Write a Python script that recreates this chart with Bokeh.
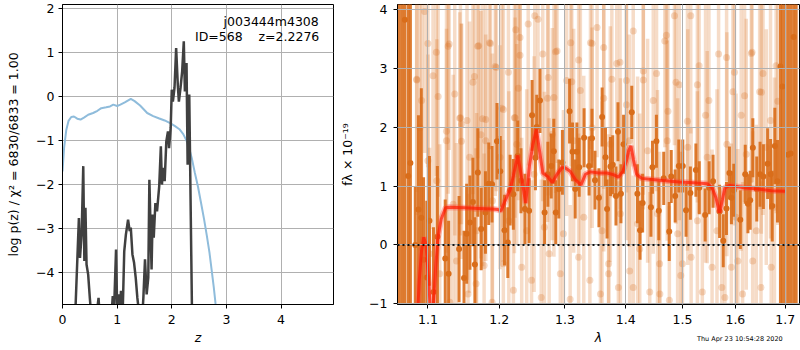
import numpy as np
from bokeh.plotting import figure
from bokeh.layouts import row, column
from bokeh.models import (Range1d, FixedTicker, CustomJSTickFormatter, Label,
                          ColumnDataSource, Span, Div)
from bokeh.embed import file_html
from bokeh.resources import INLINE

# ---------------- left panel data: redshift probability ----------------
prior_z = [0.00, 0.03, 0.07, 0.11, 0.16, 0.21, 0.27, 0.33, 0.40, 0.47, 0.56, 0.64,
           0.71, 0.80, 0.87, 0.93, 1.00, 1.06, 1.14, 1.25, 1.32, 1.42, 1.55, 1.66,
           1.76, 1.87, 1.97, 2.06, 2.14, 2.21, 2.27, 2.32, 2.37, 2.42, 2.48, 2.53,
           2.59, 2.64, 2.69, 2.73, 2.77, 2.80, 2.83]
prior_logp = [-1.70, -1.15, -0.75, -0.55, -0.46, -0.45, -0.50, -0.52, -0.47, -0.41,
              -0.37, -0.32, -0.26, -0.24, -0.22, -0.18, -0.21, -0.18, -0.13, -0.05,
              -0.10, -0.20, -0.37, -0.44, -0.49, -0.54, -0.60, -0.67, -0.74, -0.85,
              -1.00, -1.18, -1.42, -1.72, -2.05, -2.38, -2.78, -3.15, -3.55, -3.95,
              -4.35, -4.70, -5.00]

pz_z = [0.20, 0.24, 0.30, 0.32, 0.35, 0.38, 0.40, 0.42, 0.44, 0.47, 0.50, 0.54,
        0.62, 0.66, 0.69, 0.88, 0.92, 0.94, 0.98, 1.00, 1.03, 1.05, 1.07, 1.10,
        1.13, 1.16, 1.20, 1.23, 1.25, 1.28, 1.31, 1.34, 1.37, 1.40, 1.45, 1.48,
        1.51, 1.54, 1.57, 1.59, 1.63, 1.65, 1.67, 1.70, 1.73, 1.77, 1.80, 1.82,
        1.84, 1.87, 1.90, 1.93, 1.95, 1.98, 2.00, 2.02, 2.05, 2.08, 2.11, 2.13,
        2.16, 2.19, 2.22, 2.24, 2.27, 2.29, 2.32, 2.37, 2.40]
pz_logp = [-5.5, -4.74, -2.76, -3.67, -3.14, -1.58, -3.74, -2.53, -3.82, -4.05,
           -4.58, -5.2, -5.0, -4.58, -5.2, -5.3, -4.54, -5.0, -3.48, -4.8,
           -4.5, -4.9, -4.42, -5.0, -3.52, -3.14, -2.80, -3.06, -2.98, -3.59,
           -3.78, -4.12, -4.58, -4.9, -5.2, -4.58, -3.70, -4.5, -4.12, -1.89,
           -3.93, -2.68, -3.21, -2.42, -2.61, -2.04, -1.13, -2.00, -1.62, -1.92,
           -1.02, -0.79, -1.17, -0.71, 0.16, -0.11, 0.20, 1.11, 0.27, -0.11,
           0.20, 0.58, 1.26, 0.12, 0.77, -1.55, 0.05, -4.9, -6.0]

obj_name = "j003444m4308"
obj_info = "ID=568\u00a0\u00a0\u00a0\u00a0z=2.2276"

z_ticks = [0, 1, 2, 3, 4]
logp_ticks = [-4, -3, -2, -1, 0, 1, 2]

# ---------------- right panel data: spectrum ----------------
# individual (faint) spectral pixels
bg_lam = [1.0850, 1.0916, 1.1069, 1.1114, 1.1289, 1.1366, 1.1445, 1.1537, 1.1620, 1.1702,
          1.1758, 1.1858, 1.1955, 1.2036, 1.2134, 1.2223, 1.2307, 1.2430, 1.2530, 1.2579,
          1.2653, 1.2737, 1.2826, 1.2875, 1.3026, 1.3092, 1.3246, 1.3410, 1.3518, 1.3628,
          1.3764, 1.3902, 1.4010, 1.4127, 1.4302, 1.4476, 1.4681, 1.4855, 1.4883, 1.5153,
          1.5308, 1.5492, 1.5676, 1.5829, 1.5982, 1.6180, 1.6328, 1.6514, 1.6700, 1.6814,
          1.1022, 1.1160, 1.1298, 1.1390, 1.1551, 1.1665, 1.1780, 1.1895, 1.2059, 1.2208,
          1.2332, 1.2481, 1.2629, 1.2752, 1.2926, 1.3082, 1.3218, 1.3400, 1.3574, 1.3710,
          1.3874, 1.4066, 1.4240, 1.4414, 1.4589, 1.4763, 1.4970, 1.5160, 1.5368, 1.5552,
          1.5737, 1.5921, 1.6141, 1.6341, 1.6507, 1.6714,
          1.0894, 1.1000, 1.1120, 1.1252, 1.1344, 1.1459, 1.1573, 1.1672, 1.1803, 1.1900,
          1.2010, 1.2140, 1.2258, 1.2407, 1.2520, 1.2678, 1.2801, 1.2975, 1.3138, 1.3301,
          1.3437, 1.3600, 1.3738, 1.3908, 1.4060, 1.4203, 1.4377, 1.4551, 1.4725, 1.4913,
          1.5098, 1.5276, 1.5460, 1.5645, 1.5835, 1.6013, 1.6213, 1.6413, 1.6614, 1.6780,
          1.0852, 1.0957, 1.1000, 1.1138, 1.1252, 1.1275, 1.1435, 1.1459, 1.1642, 1.1689,
          1.1734, 1.1803, 1.1872, 1.1941, 1.2059, 1.2233, 1.2243, 1.2282, 1.2307, 1.2727,
          1.2852, 1.3108, 1.3218, 1.3436, 1.3628, 1.3710, 1.3846, 1.4010, 1.4127, 1.4302,
          1.4534, 1.4593, 1.4709, 1.4738, 1.4942, 1.5000, 1.5092, 1.5276, 1.5429, 1.5797,
          1.5952, 1.6048, 1.6114, 1.6314, 1.6480, 1.6548, 1.6848]
bg_flux = [2.81, 2.45, 2.87, 3.27, 3.41, 2.56, 2.16, 2.11, 2.76, 3.38,
           2.14, 3.43, 3.01, 2.32, 2.93, 2.16, 3.52, 3.75, 3.89, 3.83,
           3.24, 2.84, 2.50, 3.29, 2.79, 3.43, 2.62, 3.43, 3.69, 3.35,
           2.81, 3.10, 2.79, 3.63, 2.95, 2.45, 3.46, 3.89, 2.76, 3.89,
           3.04, 2.45, 3.24, 3.18, 2.93, 2.53, 3.27, 2.59, 2.11, 3.04,
           -0.15, -0.49, -0.97, -0.27, -0.83, -0.66, -0.35, -0.97, -0.32, -0.77,
           -0.38, -0.60, -0.89, -0.15, -0.49, -0.92, -0.21, -0.60, -0.83, -0.32,
           -0.72, -0.44, -0.07, -0.80, -0.32, -0.94, -0.52, -0.21, -0.80, -0.38,
           -0.72, -0.38, -0.83, -0.27, -0.72, -0.38,
           1.99, 1.43, 1.09, 1.77, 0.69, 2.05, 1.49, 0.24, 1.77, 0.75,
           1.49, 0.41, 1.71, 0.24, 1.20, 0.30, 1.88, 0.19, 1.77, 0.47,
           1.99, 0.24, 1.71, 0.53, 1.77, 0.36, 1.60, 0.53, 1.77, 0.19,
           1.66, 0.41, 1.49, 0.24, 1.71, 0.47, 1.54, 0.24, 1.66, 0.64,
           2.80, 3.96, 3.42, 2.52, 1.93, 3.37, 2.15, 1.76, 2.86, 3.37,
           1.87, 2.13, 3.42, 3.03, 2.30, 2.16, 3.65, 2.66, 3.22, 2.49,
           3.28, 2.77, 3.14, 3.42, 2.49, -0.49, 3.08, 2.38, -0.72, 2.80,
           2.91, -0.83, 3.56, 2.27, 2.72, -0.32, 2.10, 2.72, 2.20, -0.89,
           2.60, -0.27, 2.20, 3.25, 2.60, 2.91, 2.44]
bg_err = [2.3, 1.9, 2.6, 2.1, 1.8, 2.4, 2.0, 2.7, 1.9, 2.2,
          2.5, 1.8, 2.1, 2.6, 2.0, 2.3, 1.9, 2.4, 2.2, 1.8,
          2.5, 2.0, 2.7, 1.9, 2.3, 2.1, 2.6, 1.8, 2.2, 2.4,
          2.0, 2.5, 1.9, 2.3, 2.1, 2.6, 1.8, 2.2, 2.4, 2.0,
          2.5, 1.9, 2.3, 2.1, 2.6, 1.8, 2.2, 2.4, 2.0, 2.5,
          1.8, 2.2, 1.6, 2.0, 1.7, 2.3, 1.9, 1.6, 2.1, 1.8,
          2.2, 1.7, 2.0, 2.3, 1.8, 1.6, 2.1, 1.9, 1.7, 2.2,
          1.8, 2.0, 2.3, 1.7, 1.9, 1.6, 2.1, 2.2, 1.8, 2.0,
          1.7, 2.1, 1.9, 2.2, 1.8, 2.0,
          2.1, 1.8, 2.4, 1.9, 2.2, 1.7, 2.3, 2.0, 1.8, 2.5,
          1.9, 2.2, 1.7, 2.4, 2.0, 2.3, 1.8, 2.1, 1.9, 2.4,
          1.7, 2.2, 2.0, 2.3, 1.8, 2.5, 1.9, 2.1, 1.7, 2.3,
          2.0, 2.2, 1.8, 2.4, 1.9, 2.1, 2.3, 1.8, 2.0, 2.2,
          1.9, 2.4, 2.1, 1.7, 2.2, 2.5, 1.8, 2.0, 2.3, 1.9,
          2.1, 2.4, 1.8, 2.2, 2.0, 1.7, 2.5, 1.9, 2.3, 2.1,
          2.4, 1.8, 2.2, 2.0, 2.6, 1.7, 2.1, 2.3, 1.9, 2.2,
          2.0, 1.8, 2.4, 2.1, 2.3, 1.9, 2.2, 2.0, 2.5, 1.8,
          2.1, 1.9, 2.3, 2.2, 2.0, 2.4, 2.1]

# binned spectrum
bin_lam = [1.0625, 1.0663, 1.0695, 1.0739, 1.0768, 1.0832, 1.0874, 1.0912, 1.0942, 1.0985,
           1.1021, 1.1075, 1.1128, 1.1235, 1.1281, 1.1426, 1.1495, 1.1532, 1.1578, 1.1620,
           1.1648, 1.1690, 1.1738, 1.1799, 1.1846, 1.1894, 1.1966, 1.2014, 1.2076, 1.2125,
           1.2159, 1.2207, 1.2272, 1.2321, 1.2380, 1.2444, 1.2489, 1.2540, 1.2560, 1.2610,
           1.2681, 1.2732, 1.2784, 1.2824, 1.2855, 1.2902, 1.2959, 1.3073, 1.3120, 1.3163,
           1.3190, 1.3227, 1.3306, 1.3387, 1.3435, 1.3484, 1.3549, 1.3602, 1.3658, 1.3684,
           1.3741, 1.3779, 1.3833, 1.3867, 1.3917, 1.3962, 1.4102, 1.4199, 1.4245, 1.4290,
           1.4435, 1.4462, 1.4532, 1.4574, 1.4662, 1.4761, 1.4797, 1.4868, 1.4934, 1.5006,
           1.5066, 1.5146, 1.5248, 1.5311, 1.5421, 1.5496, 1.5571, 1.5695, 1.5765, 1.5827,
           1.5884, 1.5923, 1.5969, 1.6096, 1.6193, 1.6246, 1.6291, 1.6344, 1.6422, 1.6488,
           1.6555, 1.6641, 1.6701, 1.6735, 1.6788, 1.6842, 1.6903, 1.6944, 1.7000, 1.7060,
           1.7114, 1.7176, 1.7230]
bin_flux = [6.00, -3.00, 3.82, 1.17, 1.39, 0.00, 0.60, 0.46, -0.25, -0.55,
            0.41, -0.80, 0.14, -0.23, -0.49, -0.07, -0.56, 0.19, 0.38, 0.73,
            -0.33, 1.23, 0.27, 0.55, 1.04, 1.03, 1.76, 1.25, 0.25, 0.04,
            0.93, 0.86, 1.51, 1.09, 0.61, 0.58, 2.20, 1.48, 2.00, 2.45,
            0.55, 1.20, 1.34, 1.59, 0.55, 0.95, 1.40, 2.27, 1.58, 0.95,
            1.58, 1.32, 1.82, 1.34, 1.81, 1.10, 0.80, 2.17, 1.49, 0.61,
            1.33, 1.36, 0.83, 1.92, 0.87, 1.71, 2.25, 0.87, 0.25, 0.71,
            0.64, 1.32, 1.76, 0.58, 1.13, 0.23, 1.16, 0.83, 1.34, 1.34,
            0.59, 0.88, 1.27, 0.97, 0.51, 0.97, 1.08, 0.57, 0.07, 0.62,
            1.22, 0.80, 0.93, 0.43, 1.20, 0.70, 0.76, 1.65, 0.95, 1.20,
            1.16, 1.38, 1.20, 0.66, 1.68, 1.08, 3.03, 2.69, 6.00, 1.53,
            1.55, 3.53, -3.00]
bin_err = [8.0, 8.0, 8.0, 8.0, 8.0, 1.00, 1.60, 2.20, 1.40, 1.30,
           1.10, 1.10, 1.20, 1.00, 0.90, 0.90, 0.80, 0.85, 0.80, 0.75,
           0.80, 0.75, 0.70, 0.70, 0.70, 0.65, 0.65, 0.60, 0.60, 0.60,
           0.60, 0.60, 0.60, 0.55, 0.60, 0.55, 0.60, 0.55, 0.55, 0.55,
           0.55, 0.55, 0.55, 0.55, 0.55, 0.50, 0.55, 0.55, 0.50, 0.50,
           0.50, 0.50, 0.50, 0.50, 0.50, 0.50, 0.50, 0.50, 0.50, 0.50,
           0.50, 0.50, 0.50, 0.50, 0.50, 0.50, 0.45, 0.50, 0.50, 0.50,
           0.50, 0.45, 0.45, 0.50, 0.45, 0.50, 0.45, 0.45, 0.45, 0.45,
           0.45, 0.45, 0.45, 0.45, 0.45, 0.45, 0.45, 0.45, 0.45, 0.45,
           0.45, 0.45, 0.45, 0.50, 0.50, 0.50, 0.50, 0.50, 0.55, 0.55,
           0.55, 0.60, 0.60, 0.60, 0.65, 0.70, 8.0, 8.0, 8.0, 8.0,
           8.0, 8.0, 8.0]

# best-fit model
model_lam = [1.0861, 1.0885, 1.0915, 1.0945, 1.0975, 1.1000, 1.1030, 1.1059, 1.1105, 1.1137,
             1.1180, 1.1240, 1.1300, 1.1500, 1.1700, 1.1900, 1.1980, 1.2025, 1.2085, 1.2159,
             1.2207, 1.2273, 1.2330, 1.2392, 1.2450, 1.2500, 1.2555, 1.2604, 1.2653, 1.2730,
             1.2801, 1.2875, 1.2950, 1.3000, 1.3082, 1.3164, 1.3256, 1.3328, 1.3410, 1.3546,
             1.3682, 1.3800, 1.3874, 1.3950, 1.4011, 1.4050, 1.4087, 1.4130, 1.4185, 1.4272,
             1.4593, 1.4942, 1.5276, 1.5460, 1.5552, 1.5626, 1.5694, 1.5749, 1.5797, 1.5889,
             1.6180, 1.6448, 1.6714, 1.7000]
model_flux = [-1.20, -0.60, -0.10, 0.13, 0.00, -0.45, -1.00, -1.30, -0.38, 0.14,
              0.44, 0.63, 0.64, 0.63, 0.62, 0.61, 0.60, 0.58, 0.75, 0.94,
              1.17, 1.52, 1.15, 0.71, 1.35, 1.70, 1.96, 1.59, 1.22, 1.16,
              1.06, 1.20, 1.31, 1.31, 1.25, 1.11, 1.02, 1.20, 1.24, 1.22,
              1.22, 1.19, 1.15, 1.25, 1.43, 1.60, 1.68, 1.45, 1.20, 1.13,
              1.10, 1.07, 1.05, 1.04, 0.97, 0.80, 0.55, 0.77, 0.97, 1.01,
              0.97, 0.95, 0.92, 0.91]

lam_ticks = [1.1, 1.2, 1.3, 1.4, 1.5, 1.6, 1.7]
flux_ticks = [-1, 0, 1, 2, 3, 4]
timestamp = "Thu Apr 23 10:54:28 2020"

# ---------------- styling helpers ----------------
FONT = "DejaVu Sans"
ORANGE = "#d96d1a"
GRID = "#b0b0b0"
MINUS_FMT = CustomJSTickFormatter(code="return (tick < 0 ? '\\u2212' : '') + Math.abs(tick).toFixed(0);")
H = 350


def style(p):
    p.outline_line_color = "black"
    p.outline_line_width = 1
    p.background_fill_color = "white"
    p.border_fill_color = "white"
    for ax in p.axis:
        ax.major_label_text_font = FONT
        ax.major_label_text_font_size = "12.5px"
        ax.major_label_text_color = "black"
        ax.axis_label_text_font = FONT
        ax.axis_label_text_font_size = "12.5px"
        ax.axis_label_text_color = "black"
        ax.axis_line_color = "black"
        ax.major_tick_line_color = "black"
        ax.major_tick_out = 4
        ax.major_tick_in = 0
        ax.minor_tick_line_color = None
    p.grid.grid_line_color = GRID
    p.grid.grid_line_width = 1


# ---------------- left figure ----------------
p1 = figure(width=337, height=H, x_range=Range1d(0, 4.96), y_range=Range1d(-4.73, 2.10),
            toolbar_location=None, output_backend="svg",
            min_border_left=62, min_border_right=4, min_border_top=4, min_border_bottom=46)
style(p1)
p1.line(prior_z, prior_logp, line_color="#8fbcdb", line_width=2)
p1.line(pz_z, pz_logp, line_color="#404040", line_width=2.5)
p1.xaxis.ticker = FixedTicker(ticks=z_ticks)
p1.xgrid.ticker = FixedTicker(ticks=z_ticks)
p1.yaxis.ticker = FixedTicker(ticks=logp_ticks)
p1.ygrid.ticker = FixedTicker(ticks=logp_ticks)
p1.yaxis.formatter = MINUS_FMT
p1.xaxis.major_label_standoff = 6
p1.yaxis.major_label_standoff = 4
p1.xaxis.axis_label = "z"
p1.xaxis.axis_label_text_font_style = "italic"
p1.xaxis.axis_label_standoff = 3
p1.yaxis.axis_label = "log p(z) / χ² = 6830/6833 = 1.00"
p1.yaxis.axis_label_text_font_style = "normal"
p1.yaxis.axis_label_standoff = 12
p1.add_layout(Label(x=4.69, y=1.71, text=obj_name, text_align="right", text_baseline="middle",
                    text_font=FONT, text_font_size="12.5px", text_color="black"))
p1.add_layout(Label(x=4.70, y=1.38, text=obj_info, text_align="right", text_baseline="middle",
                    text_font=FONT, text_font_size="12.5px", text_color="black"))

# ---------------- right figure ----------------
bg = ColumnDataSource(dict(lam=bg_lam, f=bg_flux,
                           lo=np.array(bg_flux) - np.array(bg_err),
                           hi=np.array(bg_flux) + np.array(bg_err)))
bn = ColumnDataSource(dict(lam=bin_lam, f=bin_flux,
                           lo=np.array(bin_flux) - np.array(bin_err),
                           hi=np.array(bin_flux) + np.array(bin_err)))

p2 = figure(width=800 - 337, height=H, x_axis_type="log",
            x_range=Range1d(1.06, 1.73), y_range=Range1d(-1.01, 4.08),
            toolbar_location=None, output_backend="svg",
            min_border_left=54, min_border_right=1, min_border_top=4, min_border_bottom=46)
style(p2)
p2.segment("lam", "lo", "lam", "hi", source=bg, line_color=ORANGE, line_alpha=0.24, line_width=3.5)
p2.scatter("lam", "f", source=bg, size=7, fill_color=ORANGE, fill_alpha=0.25, line_color=None)
p2.segment("lam", "lo", "lam", "hi", source=bn, line_color=ORANGE, line_alpha=0.9, line_width=3)
p2.scatter("lam", "f", source=bn, size=6, fill_color=ORANGE, fill_alpha=1.0, line_color=None)
p2.line(model_lam, model_flux, line_color="#ff4030", line_alpha=0.35, line_width=6)
p2.line(model_lam, model_flux, line_color="#ff1a00", line_alpha=0.7, line_width=3)
p2.xaxis.ticker = FixedTicker(ticks=lam_ticks)
p2.xgrid.ticker = FixedTicker(ticks=lam_ticks)
p2.yaxis.ticker = FixedTicker(ticks=flux_ticks)
p2.ygrid.ticker = FixedTicker(ticks=flux_ticks)
p2.xaxis.formatter = CustomJSTickFormatter(code="return tick.toFixed(1);")
p2.yaxis.formatter = MINUS_FMT
p2.grid.level = "overlay"
zero = Span(location=0, dimension="width", line_color="black", line_alpha=0.9,
            line_width=2, line_dash="2 3", level="overlay")
p2.add_layout(zero)
p2.xaxis.major_label_standoff = 6
p2.yaxis.major_label_standoff = 6
p2.xaxis.axis_label = "λ"
p2.xaxis.axis_label_text_font_style = "italic"
p2.xaxis.axis_label_standoff = 3
p2.yaxis.axis_label = "fλ × 10⁻¹⁹"
p2.yaxis.axis_label_text_font_style = "normal"
p2.yaxis.axis_label_standoff = 11

stamp = Div(text=timestamp, width=100, height=9, margin=(-15, 0, 0, 697),
            styles={"font-family": "DejaVu Sans", "font-size": "6.5px",
                    "line-height": "9px", "color": "black", "white-space": "nowrap"})

layout = column(row(p1, p2), stamp, spacing=0)
open("out.html", "w").write(file_html(layout, INLINE))
